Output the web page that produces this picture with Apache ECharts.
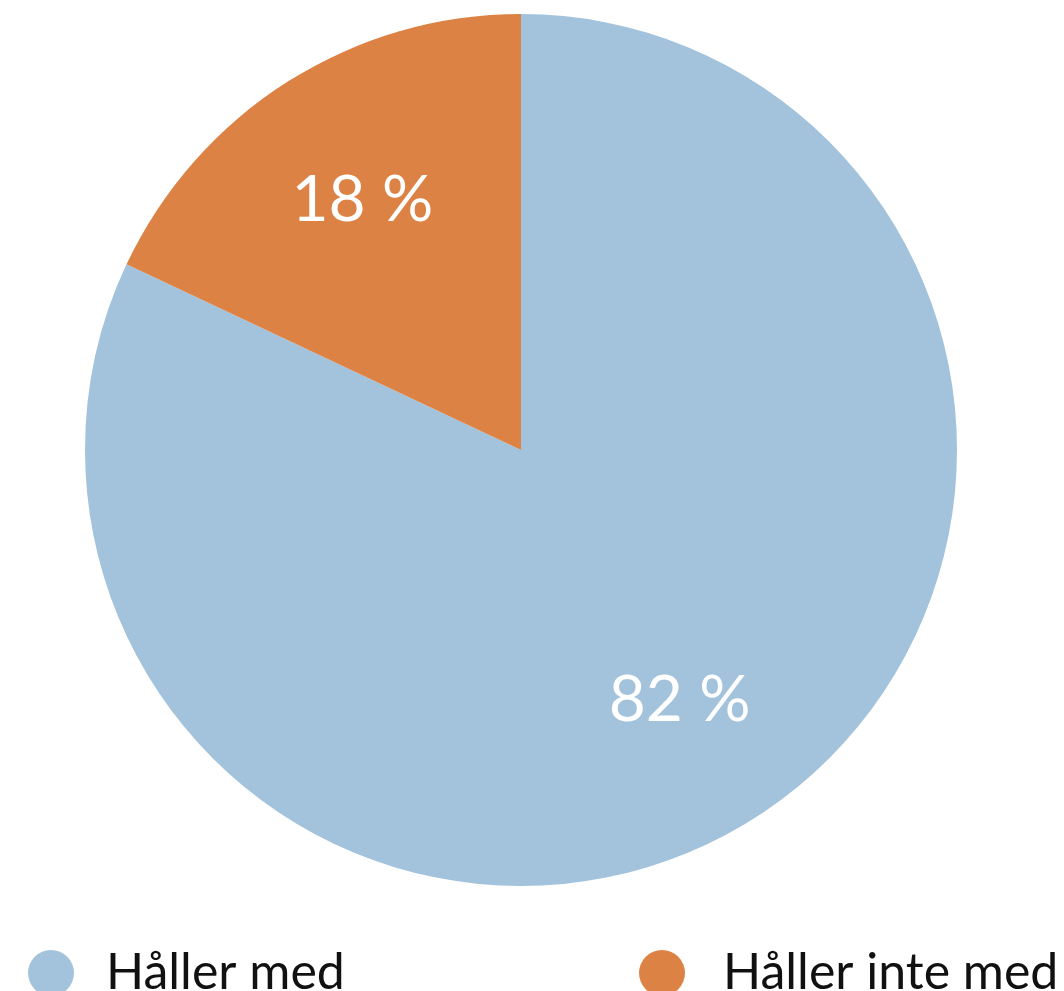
<!DOCTYPE html>
<html>
<head>
<meta charset="utf-8">
<script src="https://cdn.jsdelivr.net/npm/echarts@6/dist/echarts.min.js"></script>
<style>html,body{margin:0;padding:0;background:#fff}#c{width:1064px;height:991px}</style>
</head>
<body>
<div id="c"></div>
<script>
const categories = ['Håller med', 'Håller inte med'];
const values = [82, 18];
const colors = ['#a3c2dc', '#dc8244'];

const data = categories.map((n, i) => ({ name: n, value: values[i], itemStyle: { color: colors[i] } }));
const font = 'Lato, "Open Sans", sans-serif';
const chart = echarts.init(document.getElementById('c'));
chart.setOption({
  animation: false,
  legend: [
    { data: [categories[0]], left: 23, top: 943, icon: 'circle', itemWidth: 46, itemHeight: 46, itemGap: 0,
      textStyle: { fontFamily: font, fontSize: 50, color: '#111', padding: [0, 0, 0, 27] } },
    { data: [categories[1]], left: 634, top: 943, icon: 'circle', itemWidth: 46, itemHeight: 46, itemGap: 0,
      textStyle: { fontFamily: font, fontSize: 50, color: '#111', padding: [0, 0, 0, 33] } }
  ],
  series: [
    { type: 'pie', center: [521, 450], radius: [0, 436], startAngle: 90, clockwise: true,
      label: { show: false }, labelLine: { show: false }, silent: true, data: data },
    { type: 'pie', center: [521, 450], radius: [150, 436], startAngle: 90, clockwise: true, silent: true,
      itemStyle: { color: 'rgba(0,0,0,0)' },
      label: { show: true, position: 'inside', formatter: p => p.value + ' %', color: '#fff',
        fontFamily: font, fontSize: 64 },
      labelLine: { show: false },
      data: categories.map((n, i) => ({ name: n, value: values[i], itemStyle: { color: 'rgba(0,0,0,0)' } })) }
  ]
});
</script>
</body>
</html>
